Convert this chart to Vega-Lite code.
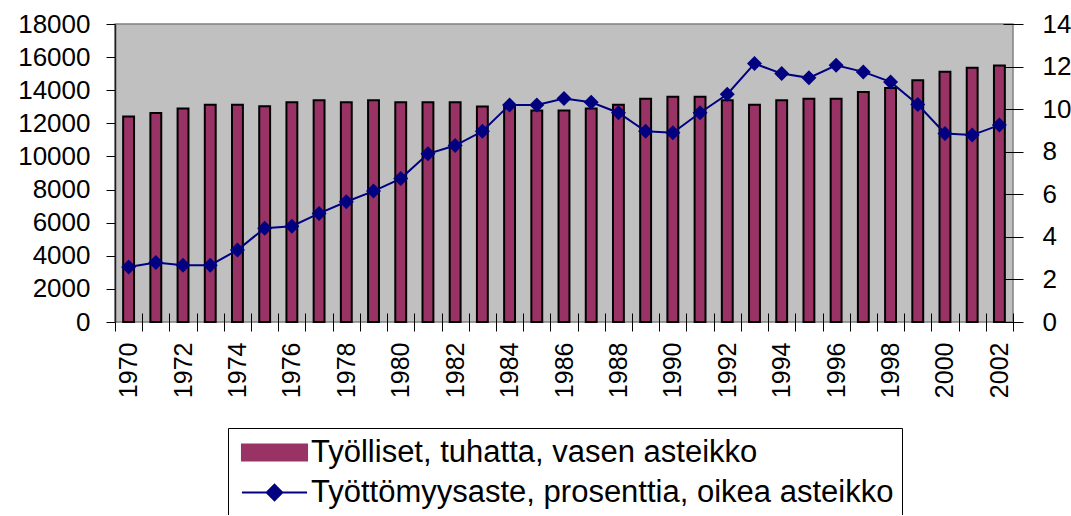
{
  "$schema": "https://vega.github.io/schema/vega-lite/v6.json",
  "autosize": {"type": "none"},
  "padding": {"left": 115, "top": 24, "right": 58, "bottom": 193},
  "width": 898,
  "height": 298,
  "background": "white",
  "config": {
    "view": {"fill": "#C0C0C0", "stroke": "#808080", "strokeWidth": 1.5},
    "font": "Liberation Sans",
    "axis": {
      "labelFont": "Liberation Sans",
      "labelFontSize": 26,
      "labelColor": "black",
      "domainColor": "#202020",
      "domainWidth": 1.5,
      "tickColor": "black",
      "tickWidth": 1,
      "grid": false,
      "title": null
    },
    "legend": {
      "labelFont": "Liberation Sans",
      "labelFontSize": 31,
      "labelColor": "black",
      "labelLimit": 0,
      "symbolType": {"expr": "datum.value === 'Työlliset, tuhatta, vasen asteikko' ? 'M-2.1,-0.52H2.1V0.52H-2.1Z' : 'M-2.1,0H2.1M0,-0.5L0.5,0L0,0.5L-0.5,0Z'"},
      "symbolStrokeColor": {"expr": "datum.value === 'Työlliset, tuhatta, vasen asteikko' ? 'black' : '#000080'"}
    }
  },
  "data": {
    "values": [
      {"year": 1970, "tyolliset": 12410, "tyottomyys": 2.58},
      {"year": 1971, "tyolliset": 12630, "tyottomyys": 2.79},
      {"year": 1972, "tyolliset": 12890, "tyottomyys": 2.67},
      {"year": 1973, "tyolliset": 13130, "tyottomyys": 2.67},
      {"year": 1974, "tyolliset": 13130, "tyottomyys": 3.38},
      {"year": 1975, "tyolliset": 13030, "tyottomyys": 4.41},
      {"year": 1976, "tyolliset": 13270, "tyottomyys": 4.5},
      {"year": 1977, "tyolliset": 13390, "tyottomyys": 5.1},
      {"year": 1978, "tyolliset": 13270, "tyottomyys": 5.65},
      {"year": 1979, "tyolliset": 13390, "tyottomyys": 6.15},
      {"year": 1980, "tyolliset": 13270, "tyottomyys": 6.74},
      {"year": 1981, "tyolliset": 13270, "tyottomyys": 7.9},
      {"year": 1982, "tyolliset": 13270, "tyottomyys": 8.29},
      {"year": 1983, "tyolliset": 13010, "tyottomyys": 8.96},
      {"year": 1984, "tyolliset": 12990, "tyottomyys": 10.2},
      {"year": 1985, "tyolliset": 12770, "tyottomyys": 10.2},
      {"year": 1986, "tyolliset": 12770, "tyottomyys": 10.5},
      {"year": 1987, "tyolliset": 12890, "tyottomyys": 10.32},
      {"year": 1988, "tyolliset": 13130, "tyottomyys": 9.83},
      {"year": 1989, "tyolliset": 13490, "tyottomyys": 8.96},
      {"year": 1990, "tyolliset": 13610, "tyottomyys": 8.89},
      {"year": 1991, "tyolliset": 13610, "tyottomyys": 9.83},
      {"year": 1992, "tyolliset": 13390, "tyottomyys": 10.7},
      {"year": 1993, "tyolliset": 13130, "tyottomyys": 12.14},
      {"year": 1994, "tyolliset": 13390, "tyottomyys": 11.67},
      {"year": 1995, "tyolliset": 13490, "tyottomyys": 11.47},
      {"year": 1996, "tyolliset": 13490, "tyottomyys": 12.06},
      {"year": 1997, "tyolliset": 13900, "tyottomyys": 11.75},
      {"year": 1998, "tyolliset": 14140, "tyottomyys": 11.28},
      {"year": 1999, "tyolliset": 14600, "tyottomyys": 10.22},
      {"year": 2000, "tyolliset": 15120, "tyottomyys": 8.86},
      {"year": 2001, "tyolliset": 15360, "tyottomyys": 8.78},
      {"year": 2002, "tyolliset": 15490, "tyottomyys": 9.25}
    ]
  },
  "encoding": {
    "x": {
      "field": "year",
      "type": "ordinal",
      "scale": {"paddingInner": 0, "paddingOuter": 0},
      "axis": {
        "labelAngle": -90,
        "labelFontSize": 25,
        "labelExpr": "datum.value % 2 == 0 ? datum.label : ''",
        "tickBand": "extent",
        "tickSize": 18,
        "offset": -9,
        "domain": false,
        "labelPadding": 11
      }
    }
  },
  "layer": [
    {
      "mark": {"type": "bar", "width": {"band": 0.4}, "stroke": "black", "strokeWidth": 2},
      "encoding": {
        "y": {
          "field": "tyolliset",
          "type": "quantitative",
          "scale": {"domain": [0, 18000], "nice": false},
          "axis": {
            "orient": "left",
            "values": [0, 2000, 4000, 6000, 8000, 10000, 12000, 14000, 16000, 18000],
            "format": "d",
            "tickSize": 9,
            "labelPadding": 16
          }
        },
        "color": {
          "datum": "Työlliset, tuhatta, vasen asteikko",
          "scale": {
            "domain": ["Työlliset, tuhatta, vasen asteikko", "Työttömyysaste, prosenttia, oikea asteikko"],
            "range": ["#993366", "#000080"]
          },
          "legend": {
            "orient": "none",
            "legendX": 113,
            "legendY": 404,
            "direction": "vertical",
            "title": null,
            "strokeColor": "black",
            "fillColor": "white",
            "padding": 8,
            "rowPadding": 8,
            "symbolSize": 961,
            "symbolOffset": 22,
            "labelOffset": 20,
            "symbolStrokeWidth": 2,
            "encode": {
              "symbols": {
                "update": {
                  "stroke": {"signal": "datum.value === 'Työlliset, tuhatta, vasen asteikko' ? 'black' : '#000080'"},
                  "strokeWidth": {"value": 2}
                }
              }
            }
          }
        }
      }
    },
    {
      "mark": {"type": "rule", "color": "black", "strokeWidth": 1.5},
      "encoding": {
        "y": {"datum": 0, "type": "quantitative", "scale": {"domain": [0, 18000], "nice": false}, "axis": null}
      }
    },
    {
      "mark": {
        "type": "line",
        "strokeWidth": 2,
        "point": {"shape": "diamond", "size": 225, "filled": true, "color": "#000080", "opacity": 1}
      },
      "encoding": {
        "y": {
          "field": "tyottomyys",
          "type": "quantitative",
          "scale": {"domain": [0, 14], "nice": false},
          "axis": {
            "orient": "right",
            "values": [0, 2, 4, 6, 8, 10, 12, 14],
            "tickSize": 20,
            "offset": -10,
            "domain": false,
            "labelPadding": 19
          }
        },
        "color": {
          "datum": "Työttömyysaste, prosenttia, oikea asteikko",
          "legend": {
            "orient": "none",
            "legendX": 113,
            "legendY": 404,
            "direction": "vertical",
            "title": null,
            "strokeColor": "black",
            "fillColor": "white",
            "padding": 8,
            "rowPadding": 8,
            "symbolSize": 961,
            "symbolOffset": 22,
            "labelOffset": 20,
            "symbolStrokeWidth": 2,
            "encode": {
              "symbols": {
                "update": {
                  "stroke": {"signal": "datum.value === 'Työlliset, tuhatta, vasen asteikko' ? 'black' : '#000080'"},
                  "strokeWidth": {"value": 2}
                }
              }
            }
          }
        }
      }
    }
  ],
  "resolve": {"scale": {"y": "independent"}}
}
